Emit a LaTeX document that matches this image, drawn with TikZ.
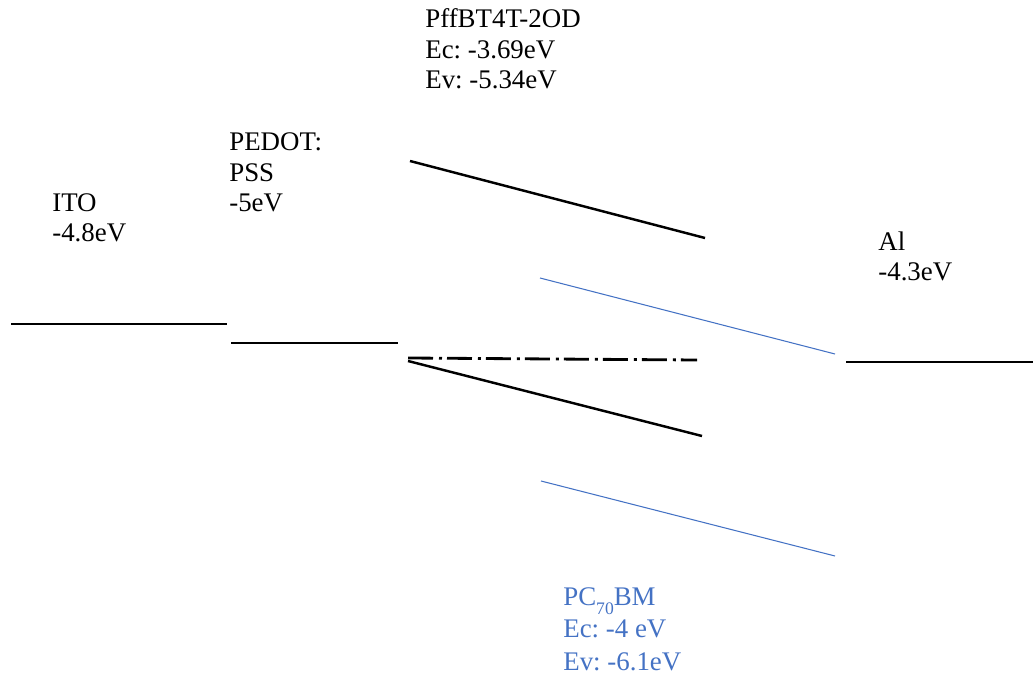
\documentclass[tikz,border=0pt]{standalone}
\usepackage{fontspec}
\setmainfont{Liberation Serif}
\definecolor{accblue}{HTML}{4472C4}
\frenchspacing
\begin{document}
\begin{tikzpicture}[x=0.02cm,y=-0.02cm,
  lbl/.style={anchor=base west,inner sep=0pt,align=left,
    font=\fontsize{15.3pt}{17.6pt}\selectfont},
  thinlvl/.style={line width=0.75pt,black},
  thicklvl/.style={line width=1.4pt,black},
  bluelvl/.style={line width=0.6pt,accblue},
  dashdotlvl/.style={line width=1.6pt,black,dash pattern=on 0.5cm off 0.12cm on 0.06cm off 0.1cm}]
\useasboundingbox (0,0) rectangle (1033,678);
% labels (anchor = baseline of last line)
\node[lbl] (poly) at (425,89) {PffBT4T-2OD\\Ec: -3.69eV\\Ev: -5.34eV};
\node[lbl] (pedot) at (229,212) {PEDOT:\\PSS\\-5eV};
\node[lbl] (ito) at (52,242) {ITO\\-4.8eV};
\node[lbl] (al) at (878,281) {Al\\-4.3eV};
\node[lbl,text=accblue,font=\fontsize{15.3pt}{18.4pt}\selectfont] (pcbm) at (563,670) {PC\raisebox{-0.35em}{\fontsize{10pt}{10pt}\selectfont 70}BM\\Ec: -4 eV\\Ev: -6.1eV};
% levels
\coordinate (itoA) at (11,324);   \coordinate (itoB) at (227,324);
\coordinate (pedA) at (231,343);  \coordinate (pedB) at (398,343);
\coordinate (alA) at (846,362);   \coordinate (alB) at (1033,362);
\coordinate (pEcA) at (410,161);  \coordinate (pEcB) at (705,238);
\coordinate (pEvA) at (408,361);  \coordinate (pEvB) at (702,436);
\coordinate (ddA) at (408,358);   \coordinate (ddB) at (697,360);
\coordinate (bEcA) at (540,278);  \coordinate (bEcB) at (835,354);
\coordinate (bEvA) at (541,481);  \coordinate (bEvB) at (835,556);
\draw[thinlvl] (itoA) -- (itoB);
\draw[thinlvl] (pedA) -- (pedB);
\draw[thinlvl] (alA) -- (alB);
\draw[thicklvl] (pEcA) -- (pEcB);
\draw[thicklvl] (pEvA) -- (pEvB);
\draw[dashdotlvl] (ddA) -- (ddB);
\draw[bluelvl] (bEcA) -- (bEcB);
\draw[bluelvl] (bEvA) -- (bEvB);
\end{tikzpicture}
\end{document}
